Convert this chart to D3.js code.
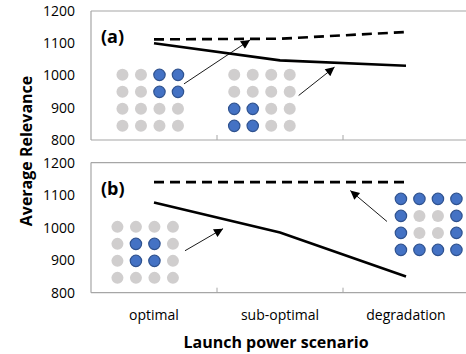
<!DOCTYPE html>
<html>
<head>
<meta charset="utf-8">
<script src="https://cdn.jsdelivr.net/npm/d3@7"></script>
<style>
  body { margin: 0; background: #fff; }
  text { font-family: "Open Sans", sans-serif; }
</style>
</head>
<body>
<div id="chart"></div>
<script>
// data
var categories = ['optimal', 'sub-optimal', 'degradation'];
var yTicks = [800, 900, 1000, 1100, 1200];
var aDashed = [1112, 1114, 1135];
var aSolid = [1100, 1047, 1030];
var bDashed = [1140, 1140, 1140];
var bSolid = [1077, 985, 850];

// dot patterns (1 = blue) and where they sit, in category index / value units
var gridA1 = [[0,0,1,1],[0,0,1,1],[0,0,0,0],[0,0,0,0]];
var gridA2 = [[0,0,0,0],[0,0,0,0],[1,1,0,0],[1,1,0,0]];
var gridB1 = [[0,0,0,0],[0,1,1,0],[0,1,1,0],[0,0,0,0]];
var gridB2 = [[1,1,1,1],[1,0,0,1],[1,0,0,1],[1,1,1,1]];
var gridsA = [{at: [-0.03, 923], cells: gridA1}, {at: [0.857, 923], cells: gridA2}];
var gridsB = [{at: [-0.07, 924], cells: gridB1}, {at: [2.18, 1010], cells: gridB2}];
var arrowsA = [[[0.238, 974], [0.762, 1110]], [[1.148, 938], [1.433, 1026]]];
var arrowsB = [[[0.246, 929], [0.548, 997]], [[1.849, 1019], [1.558, 1114]]];

var W = 466, H = 354;
var left = 91, right = 469;
var svg = d3.select('#chart').append('svg').attr('width', W).attr('height', H);

svg.append('defs').append('marker')
    .attr('id', 'head')
    .attr('viewBox', '0 0 10 10')
    .attr('refX', 10).attr('refY', 5)
    .attr('markerWidth', 11).attr('markerHeight', 9)
    .attr('markerUnits', 'userSpaceOnUse')
    .attr('orient', 'auto')
    .append('path').attr('d', 'M0,0L10,5L0,10z').attr('fill', '#000');

var x = d3.scaleLinear().domain([-0.5, 2.5]).range([left, right]);

function panel(top, bottom, label, dashed, solid, grids, arrows) {
    var y = d3.scaleLinear().domain([800, 1200]).range([bottom, top]);
    var g = svg.append('g');

    // frame
    g.append('line').attr('x1', left).attr('x2', W).attr('y1', top).attr('y2', top)
        .attr('stroke', '#a6a6a6').attr('stroke-width', 1.2);
    g.append('line').attr('x1', left).attr('x2', left).attr('y1', top).attr('y2', bottom)
        .attr('stroke', '#a6a6a6').attr('stroke-width', 1.2);
    g.append('line').attr('x1', left).attr('x2', W).attr('y1', bottom).attr('y2', bottom)
        .attr('stroke', '#a6a6a6').attr('stroke-width', 1.2);
    [0.5, 1.5].forEach(function (t) {
        g.append('line').attr('x1', x(t)).attr('x2', x(t)).attr('y1', bottom).attr('y2', bottom - 5)
            .attr('stroke', '#a6a6a6').attr('stroke-width', 1);
    });

    // y axis
    var ax = g.append('g').attr('transform', 'translate(' + (left - 16) + ',0)')
        .call(d3.axisLeft(y).tickValues(yTicks).tickFormat(d3.format('d')).tickSize(0).tickPadding(0));
    ax.select('.domain').remove();
    ax.selectAll('text').style('font-family', '"Open Sans", sans-serif').style('font-size', '14px')
        .attr('fill', '#000');

    // dots
    grids.forEach(function (gr) {
        var cx = x(gr.at[0]), cy = y(gr.at[1]);
        gr.cells.forEach(function (row, r) {
            row.forEach(function (v, c) {
                g.append('circle')
                    .attr('cx', cx + (c - 1.5) * 18.5)
                    .attr('cy', cy + (r - 1.5) * 17)
                    .attr('r', v ? 5.7 : 6)
                    .attr('fill', v ? '#4472c4' : '#d0cece')
                    .attr('stroke', v ? '#2f528f' : 'none')
                    .attr('stroke-width', 1.2);
            });
        });
    });

    var line = d3.line().x(function (d, i) { return x(i); }).y(function (d) { return y(d); });
    g.append('path').datum(dashed).attr('d', line).attr('fill', 'none')
        .attr('stroke', '#000').attr('stroke-width', 2.6).attr('stroke-dasharray', '10,6');
    g.append('path').datum(solid).attr('d', line).attr('fill', 'none')
        .attr('stroke', '#000').attr('stroke-width', 2.6);

    arrows.forEach(function (a) {
        g.append('line')
            .attr('x1', x(a[0][0])).attr('y1', y(a[0][1]))
            .attr('x2', x(a[1][0])).attr('y2', y(a[1][1]))
            .attr('stroke', '#000').attr('stroke-width', 0.9)
            .attr('marker-end', 'url(#head)');
    });

    g.append('text').attr('x', left + 10).attr('y', top + 32)
        .style('font-size', '18px').style('font-weight', 'bold').text(label);
}

panel(11, 140, '(a)', aDashed, aSolid, gridsA, arrowsA);
panel(162.6, 292.7, '(b)', bDashed, bSolid, gridsB, arrowsB);

// category labels
svg.selectAll('.cat').data(categories).enter().append('text')
    .attr('x', function (d, i) { return x(i); })
    .attr('y', 320)
    .attr('text-anchor', 'middle')
    .style('font-size', '14px')
    .text(function (d) { return d; });

svg.append('text').attr('x', 276).attr('y', 348).attr('text-anchor', 'middle')
    .style('font-size', '16px').style('font-weight', 'bold').text('Launch power scenario');

svg.append('text').attr('transform', 'translate(32,151) rotate(-90)').attr('text-anchor', 'middle')
    .style('font-size', '16px').style('font-weight', 'bold').text('Average Relevance');
</script>
</body>
</html>
